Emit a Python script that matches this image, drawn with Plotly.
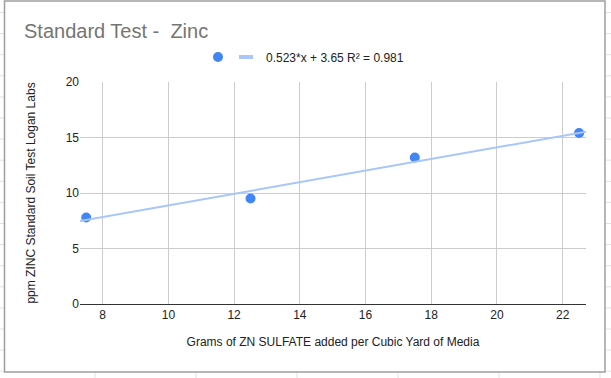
import plotly.graph_objects as go

# ---- data ----
grams = [7.5, 12.5, 17.5, 22.5]
ppm_zinc = [7.8, 9.5, 13.2, 15.4]
trend_slope = 0.523
trend_intercept = 3.65
trend_r2 = 0.981
x_ticks = [8, 10, 12, 14, 16, 18, 20, 22]
y_ticks = [0, 5, 10, 15, 20]

X_RANGE = [7.31, 22.71]
Y_RANGE = [0, 20]

W, H = 611, 378
ML, MR, MT, MB = 80, 25, 82, 74
PW, PH = W - ML - MR, H - MT - MB
FONT = "Liberation Sans, Arial, sans-serif"


def px(x):
    return (x - ML) / PW


def py(y):
    return (H - MB - y) / PH


trend_x = X_RANGE
trend_y = [trend_slope * v + trend_intercept for v in trend_x]
trend_label = f"{trend_slope}*x + {trend_intercept} R² = {trend_r2}"

fig = go.Figure()
fig.add_trace(go.Scatter(
    x=grams, y=ppm_zinc, mode="markers", name="",
    marker=dict(color="#4285f4", size=10, line=dict(width=0)),
    showlegend=True, legend="legend",
))
fig.add_trace(go.Scatter(
    x=trend_x, y=trend_y, mode="lines", name=trend_label,
    line=dict(color="#a8c6fa", width=2),
    showlegend=False, hoverinfo="skip",
))
# legend-only entry for the trendline
fig.add_trace(go.Scatter(
    x=[None], y=[None], mode="markers", name=trend_label,
    marker=dict(symbol="line-ew-open", size=10, color="#a8c6fa",
                line=dict(color="#a8c6fa", width=4)),
    showlegend=True, legend="legend2",
))

shapes = []
grid_col = "#e2e2e2"
# spreadsheet grid behind the chart box
for k in range(18):
    yy = 12.5 + 21.1 * k
    shapes.append(dict(type="line", xref="paper", yref="paper",
                       x0=px(0), x1=px(4), y0=py(yy), y1=py(yy),
                       line=dict(color=grid_col, width=1), layer="below"))
    shapes.append(dict(type="line", xref="paper", yref="paper",
                       x0=px(606), x1=px(611), y0=py(yy), y1=py(yy),
                       line=dict(color=grid_col, width=1), layer="below"))
for xx in [95, 196, 297, 398, 499, 600]:
    shapes.append(dict(type="line", xref="paper", yref="paper",
                       x0=px(xx), x1=px(xx), y0=py(372), y1=py(378),
                       line=dict(color=grid_col, width=1), layer="below"))
# chart box border
shapes.append(dict(type="rect", xref="paper", yref="paper",
                   x0=px(4.5), x1=px(605), y0=py(1), y1=py(372),
                   line=dict(color="#9e9e9e", width=1.5), layer="below"))

fig.update_layout(
    width=W, height=H,
    margin=dict(l=ML, r=MR, t=MT, b=MB),
    paper_bgcolor="white", plot_bgcolor="white",
    font=dict(family=FONT, size=12, color="#222222"),
    title=dict(text="Standard Test -\u00a0 Zinc", x=24 / W, xref="container", xanchor="left",
               y=1 - 31 / H, yref="container", yanchor="middle",
               font=dict(size=20, color="#757575", family=FONT)),
    legend=dict(orientation="h", x=px(217 - 19), xanchor="left", y=py(57), yanchor="middle",
                font=dict(size=12, color="#222222"), bgcolor="rgba(0,0,0,0)"),
    legend2=dict(orientation="h", x=px(245 - 19), xanchor="left", y=py(57), yanchor="middle",
                 font=dict(size=12, color="#222222"), bgcolor="rgba(0,0,0,0)"),
    xaxis=dict(range=X_RANGE, tickvals=x_ticks, showgrid=True, gridcolor="#cccccc",
               showline=True, linecolor="#333333", linewidth=1, zeroline=False,
               ticks="", tickfont=dict(size=12, color="#222222"),
               title=dict(text="Grams of ZN SULFATE added per Cubic Yard of Media",
                          font=dict(size=12, color="#222222"), standoff=16)),
    yaxis=dict(range=Y_RANGE, tickvals=y_ticks, showgrid=True, gridcolor="#cccccc",
               zeroline=False, showline=False, ticks="",
               tickfont=dict(size=12, color="#222222"),
               title=dict(text="ppm ZINC Standard Soil Test Logan Labs",
                          font=dict(size=12, color="#222222"), standoff=27)),
    shapes=shapes,
)

fig.write_html("out.html", config={"displayModeBar": False},
               post_script="document.body.style.margin='0';")
